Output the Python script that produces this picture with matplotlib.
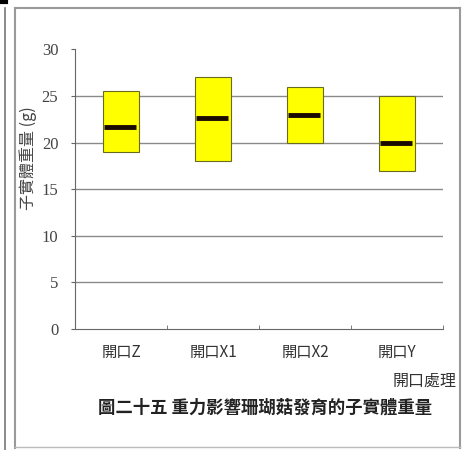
import matplotlib
matplotlib.use("Agg")
import matplotlib.pyplot as plt
from matplotlib.lines import Line2D

# data (g)
groups = ["開口Z", "開口X1", "開口X2", "開口Y"]
box_low = [19.0, 18.0, 20.0, 17.0]
box_high = [25.5, 27.0, 26.0, 25.0]
medians = [21.7, 22.6, 23.0, 20.0]
yticks = [0, 5, 10, 15, 20, 25, 30]

cjk = ["Noto Sans CJK TC", "DejaVu Sans"]
serif = ["Liberation Serif", "DejaVu Serif"]

fig = plt.figure(figsize=(4.69, 4.5), dpi=100)
W, H = 469.0, 450.0
ax = fig.add_axes([75 / W, 1 - 329 / H, (443 - 75) / W, (329 - 49.4) / H])

# horizontal grid lines (none at the top value)
for v in yticks[1:-1]:
    ax.axhline(v, color="#8a8a8a", lw=1.0, zorder=1)

width = 0.40
for i in range(len(groups)):
    ax.bar(i, box_high[i] - box_low[i], bottom=box_low[i], width=width,
           color="#ffff00", edgecolor="#6b6b20", linewidth=0.8, zorder=3)
    ax.hlines(medians[i], i - width / 2 + 0.01, i + width / 2 - 0.04,
              color="#1a0a00", lw=3.5, zorder=4)

ax.set_xlim(-0.5, len(groups) - 0.5)
ax.set_ylim(0, 30)
ax.set_yticks(yticks)
ax.set_yticklabels([str(v) for v in yticks], family=serif, fontsize=12, color="#444444")
ax.set_xticks(range(len(groups)))
ax.set_xticklabels(groups, family=cjk, fontsize=11, color="#333333")
ax.tick_params(axis="x", length=0, pad=11)
ax.tick_params(axis="y", length=3, color="#666666", pad=9)
ax.set_xticks([0.5, 1.5, 2.5, 3.5], minor=True)
ax.tick_params(axis="x", which="minor", length=3, direction="in", color="#666666")

for s in ["top", "right"]:
    ax.spines[s].set_visible(False)
ax.spines["left"].set_color("#666666")
ax.spines["bottom"].set_color("#666666")

# axis titles and caption
fig.text(28 / W, 1 - 158 / H, "子實體重量 (g)", rotation=90, ha="center", va="center",
         family=cjk, fontsize=11.5, color="#444444")
fig.text(425 / W, 1 - 381 / H, "開口處理", ha="center", va="center",
         family=cjk, fontsize=11.5, color="#333333")
fig.text(265 / W, 1 - 408 / H, "圖二十五 重力影響珊瑚菇發育的子實體重量", ha="center", va="center",
         family=cjk, fontsize=12.5, fontweight="bold", color="#222222")

# outer frame of the scanned figure
def px_line(x0, y0, x1, y1, **kw):
    fig.add_artist(Line2D([x0 / W, x1 / W], [1 - y0 / H, 1 - y1 / H], **kw))

px_line(15, 8, 15, 448, color="#9a9a9a", lw=1.5)
px_line(15, 8, 460, 8, color="#9a9a9a", lw=1.5)
px_line(460, 8, 460, 448, color="#9a9a9a", lw=1.5)
px_line(15, 447, 460, 447, color="#bbbbbb", lw=1.0)
px_line(5, 8, 5, 450, color="#777777", lw=1.2)
px_line(0, 1.5, 6, 1.5, color="#000000", lw=3)

fig.savefig("out.png", dpi=100)
